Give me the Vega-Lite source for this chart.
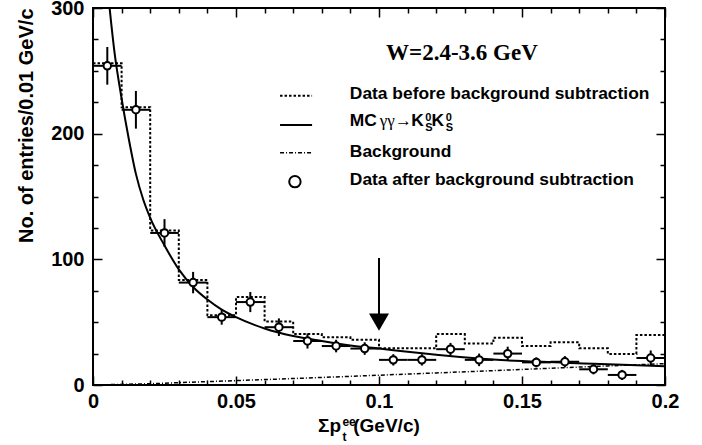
{
  "$schema": "https://vega.github.io/schema/vega-lite/v6.json",
  "width": 572,
  "height": 377,
  "autosize": {"type": "none"},
  "padding": {"left": 93, "top": 8, "right": 37, "bottom": 60},
  "background": "white",
  "config": {
    "view": {"stroke": "black", "strokeWidth": 2},
    "axis": {
      "grid": false,
      "domain": false,
      "labelFont": "Liberation Sans",
      "labelFontWeight": "bold",
      "labelFontSize": 20,
      "labelColor": "black",
      "tickColor": "black",
      "tickWidth": 1.5,
      "labelOverlap": false,
      "labelFlush": false,
      "titleFont": "Liberation Sans",
      "titleFontWeight": "bold",
      "titleFontSize": 20,
      "titleColor": "black"
    }
  },
  "datasets": {
    "points": [
      {"x": 0.005, "xlo": 0.0, "xhi": 0.01, "y": 254, "ylo": 239, "yhi": 269},
      {"x": 0.015, "xlo": 0.01, "xhi": 0.02, "y": 219, "ylo": 204, "yhi": 234},
      {"x": 0.025, "xlo": 0.02, "xhi": 0.03, "y": 121, "ylo": 110, "yhi": 132},
      {"x": 0.035, "xlo": 0.03, "xhi": 0.04, "y": 81.5, "ylo": 73, "yhi": 90},
      {"x": 0.045, "xlo": 0.04, "xhi": 0.05, "y": 54, "ylo": 48, "yhi": 60},
      {"x": 0.055, "xlo": 0.05, "xhi": 0.06, "y": 66, "ylo": 58, "yhi": 74},
      {"x": 0.065, "xlo": 0.06, "xhi": 0.07, "y": 46, "ylo": 39, "yhi": 53},
      {"x": 0.075, "xlo": 0.07, "xhi": 0.08, "y": 35, "ylo": 29, "yhi": 41},
      {"x": 0.085, "xlo": 0.08, "xhi": 0.09, "y": 31, "ylo": 26, "yhi": 36},
      {"x": 0.095, "xlo": 0.09, "xhi": 0.1, "y": 29, "ylo": 24, "yhi": 34},
      {"x": 0.105, "xlo": 0.1, "xhi": 0.11, "y": 20, "ylo": 15.5, "yhi": 24.5},
      {"x": 0.115, "xlo": 0.11, "xhi": 0.12, "y": 20, "ylo": 15.5, "yhi": 24.5},
      {"x": 0.125, "xlo": 0.12, "xhi": 0.13, "y": 28.5, "ylo": 23.5, "yhi": 33.5},
      {"x": 0.135, "xlo": 0.13, "xhi": 0.14, "y": 20, "ylo": 15, "yhi": 25},
      {"x": 0.145, "xlo": 0.14, "xhi": 0.15, "y": 25, "ylo": 19.5, "yhi": 30.5},
      {"x": 0.155, "xlo": 0.15, "xhi": 0.16, "y": 18, "ylo": 14, "yhi": 22},
      {"x": 0.165, "xlo": 0.16, "xhi": 0.17, "y": 18.5, "ylo": 14, "yhi": 23},
      {"x": 0.175, "xlo": 0.17, "xhi": 0.18, "y": 12.5, "ylo": 8.5, "yhi": 16.5},
      {"x": 0.185, "xlo": 0.18, "xhi": 0.19, "y": 8, "ylo": 4, "yhi": 12},
      {"x": 0.195, "xlo": 0.19, "xhi": 0.2, "y": 21.5, "ylo": 15.5, "yhi": 27.5}
    ],
    "hist": [
      {"x": 0.0, "y": 256}, {"x": 0.01, "y": 221}, {"x": 0.02, "y": 123},
      {"x": 0.03, "y": 83.5}, {"x": 0.04, "y": 55.5}, {"x": 0.05, "y": 70},
      {"x": 0.06, "y": 50.5}, {"x": 0.07, "y": 40.5}, {"x": 0.08, "y": 38},
      {"x": 0.09, "y": 36}, {"x": 0.1, "y": 29.2}, {"x": 0.11, "y": 29.2},
      {"x": 0.12, "y": 40.5}, {"x": 0.13, "y": 33}, {"x": 0.14, "y": 37.6},
      {"x": 0.15, "y": 31}, {"x": 0.16, "y": 34}, {"x": 0.17, "y": 29.2},
      {"x": 0.18, "y": 24.7}, {"x": 0.19, "y": 39.8}, {"x": 0.2, "y": 39.8}
    ],
    "mc": [
      {"x": 0.0058, "y": 300}, {"x": 0.0075, "y": 265}, {"x": 0.01, "y": 228},
      {"x": 0.0125, "y": 196}, {"x": 0.015, "y": 168}, {"x": 0.0175, "y": 148},
      {"x": 0.02, "y": 133}, {"x": 0.025, "y": 111}, {"x": 0.03, "y": 92},
      {"x": 0.035, "y": 78}, {"x": 0.04, "y": 68}, {"x": 0.045, "y": 60},
      {"x": 0.05, "y": 54}, {"x": 0.06, "y": 45}, {"x": 0.07, "y": 39},
      {"x": 0.08, "y": 35}, {"x": 0.09, "y": 31.5}, {"x": 0.1, "y": 29},
      {"x": 0.11, "y": 26.5}, {"x": 0.12, "y": 24}, {"x": 0.135, "y": 21},
      {"x": 0.15, "y": 19}, {"x": 0.175, "y": 17}, {"x": 0.2, "y": 15}
    ],
    "bkg": [
      {"x": 0.0, "y": 0}, {"x": 0.02, "y": 1}, {"x": 0.04, "y": 2.7},
      {"x": 0.06, "y": 4.3}, {"x": 0.08, "y": 6}, {"x": 0.1, "y": 7.8},
      {"x": 0.12, "y": 9.6}, {"x": 0.14, "y": 11.4}, {"x": 0.16, "y": 13.3},
      {"x": 0.18, "y": 15.2}, {"x": 0.2, "y": 17}
    ],
    "arrow": [{"x": 0.1, "top": 101, "bottom": 55, "tip": 50}]
  },
  "resolve": {"axis": {"x": "independent", "y": "independent"}},
  "layer": [
    {
      "data": {"name": "hist"},
      "mark": {"type": "line", "interpolate": "step-after", "color": "black", "strokeWidth": 2, "strokeDash": [2.5, 2]},
      "encoding": {
        "x": {"field": "x", "type": "quantitative",
          "scale": {"domain": [0, 0.2], "nice": false, "zero": false},
          "axis": {
            "orient": "bottom", "title": null,
            "values": [0, 0.01, 0.02, 0.03, 0.04, 0.05, 0.06, 0.07, 0.08, 0.09, 0.1, 0.11, 0.12, 0.13, 0.14, 0.15, 0.16, 0.17, 0.18, 0.19, 0.2],
            "labelExpr": "abs(round(datum.value*20)-datum.value*20)<0.001 ? format(datum.value, '~g') : ''",
            "tickSize": {"condition": {"test": "abs(round(datum.value*20)-datum.value*20)<0.001", "value": -9}, "value": -5},
            "labelPadding": 15
          }},
        "y": {"field": "y", "type": "quantitative",
          "scale": {"domain": [0, 300], "nice": false},
          "axis": {
            "orient": "left",
            "title": "No. of entries/0.01 GeV/c",
            "titleAnchor": "end",
            "titlePadding": 14,
            "values": [0, 25, 50, 75, 100, 125, 150, 175, 200, 225, 250, 275, 300],
            "labelExpr": "datum.value % 100 == 0 ? datum.label : ''",
            "tickSize": {"condition": {"test": "datum.value % 100 == 0", "value": -9}, "value": -5},
            "labelPadding": 18
          }}
      }
    },
    {
      "data": {"name": "bkg"},
      "mark": {"type": "line", "color": "black", "strokeWidth": 1.5, "strokeDash": [4, 2, 1, 2]},
      "encoding": {
        "x": {"field": "x", "type": "quantitative", "axis": null},
        "y": {"field": "y", "type": "quantitative", "axis": null}
      }
    },
    {
      "data": {"name": "mc"},
      "mark": {"type": "line", "color": "black", "strokeWidth": 2, "interpolate": "monotone"},
      "encoding": {
        "x": {"field": "x", "type": "quantitative", "axis": null},
        "y": {"field": "y", "type": "quantitative", "axis": null}
      }
    },
    {
      "data": {"name": "points"},
      "mark": {"type": "rule", "color": "black", "strokeWidth": 2},
      "encoding": {
        "x": {"field": "x", "type": "quantitative", "axis": null},
        "y": {"field": "ylo", "type": "quantitative", "axis": null},
        "y2": {"field": "yhi"}
      }
    },
    {
      "data": {"name": "points"},
      "mark": {"type": "rule", "color": "black", "strokeWidth": 2},
      "encoding": {
        "x": {"field": "xlo", "type": "quantitative", "axis": null},
        "x2": {"field": "xhi"},
        "y": {"field": "y", "type": "quantitative", "axis": null}
      }
    },
    {
      "data": {"name": "points"},
      "mark": {"type": "point", "shape": "circle", "filled": true, "fill": "white", "stroke": "black", "strokeWidth": 2, "size": 55, "opacity": 1},
      "encoding": {
        "x": {"field": "x", "type": "quantitative", "axis": null},
        "y": {"field": "y", "type": "quantitative", "axis": null}
      }
    },
    {
      "data": {"name": "arrow"},
      "mark": {"type": "rule", "color": "black", "strokeWidth": 2},
      "encoding": {
        "x": {"field": "x", "type": "quantitative", "axis": null},
        "y": {"field": "top", "type": "quantitative", "axis": null},
        "y2": {"field": "bottom"}
      }
    },
    {
      "data": {"name": "arrow"},
      "mark": {"type": "point", "shape": "triangle-down", "filled": true, "color": "black", "size": 400, "opacity": 1},
      "encoding": {
        "x": {"field": "x", "type": "quantitative", "axis": null},
        "y": {"field": "tip", "type": "quantitative", "axis": null}
      }
    },
    {
      "data": {"values": [{"x": 0.129, "y": 264, "t": "W=2.4-3.6 GeV"}]},
      "mark": {"type": "text", "font": "Liberation Serif", "fontWeight": "bold", "fontSize": 23, "align": "center", "baseline": "middle", "color": "black"},
      "encoding": {
        "x": {"field": "x", "type": "quantitative", "axis": null},
        "y": {"field": "y", "type": "quantitative", "axis": null},
        "text": {"field": "t"}
      }
    },
    {
      "data": {"values": [
        {"x": 0.0898, "y": 231.2, "t": "Data before background subtraction"},
        {"x": 0.0898, "y": 209.7, "t": "MC"},
        {"x": 0.1113, "y": 209.7, "t": "K"},
        {"x": 0.1184, "y": 209.7, "t": "K"},
        {"x": 0.0898, "y": 185.8, "t": "Background"},
        {"x": 0.0898, "y": 163.1, "t": "Data after background subtraction"}
      ]},
      "mark": {"type": "text", "font": "Liberation Sans", "fontWeight": "bold", "fontSize": 17.4, "align": "left", "baseline": "middle", "color": "black"},
      "encoding": {
        "x": {"field": "x", "type": "quantitative", "axis": null},
        "y": {"field": "y", "type": "quantitative", "axis": null},
        "text": {"field": "t"}
      }
    },
    {
      "data": {"values": [{"x": 0.1003, "y": 209.7, "t": "γγ→"}]},
      "mark": {"type": "text", "font": "Liberation Serif", "fontSize": 17, "align": "left", "baseline": "middle", "color": "black"},
      "encoding": {
        "x": {"field": "x", "type": "quantitative", "axis": null},
        "y": {"field": "y", "type": "quantitative", "axis": null},
        "text": {"field": "t"}
      }
    },
    {
      "data": {"values": [
        {"x": 0.1162, "y": 212.2, "t": "0"},
        {"x": 0.1162, "y": 204.2, "t": "S"},
        {"x": 0.1233, "y": 212.2, "t": "0"},
        {"x": 0.1233, "y": 204.2, "t": "S"}
      ]},
      "mark": {"type": "text", "font": "Liberation Sans", "fontWeight": "bold", "fontSize": 11, "align": "left", "baseline": "middle", "color": "black"},
      "encoding": {
        "x": {"field": "x", "type": "quantitative", "axis": null},
        "y": {"field": "y", "type": "quantitative", "axis": null},
        "text": {"field": "t"}
      }
    },
    {
      "data": {"values": [
        {"x1": 0.0654, "x2": 0.0766, "y": 230.2}
      ]},
      "mark": {"type": "rule", "color": "black", "strokeWidth": 2, "strokeDash": [2.5, 2]},
      "encoding": {
        "x": {"field": "x1", "type": "quantitative", "axis": null},
        "x2": {"field": "x2"},
        "y": {"field": "y", "type": "quantitative", "axis": null}
      }
    },
    {
      "data": {"values": [
        {"x1": 0.0654, "x2": 0.0766, "y": 206.9}
      ]},
      "mark": {"type": "rule", "color": "black", "strokeWidth": 2},
      "encoding": {
        "x": {"field": "x1", "type": "quantitative", "axis": null},
        "x2": {"field": "x2"},
        "y": {"field": "y", "type": "quantitative", "axis": null}
      }
    },
    {
      "data": {"values": [
        {"x1": 0.0654, "x2": 0.0766, "y": 184.8}
      ]},
      "mark": {"type": "rule", "color": "black", "strokeWidth": 1.5, "strokeDash": [4, 2, 1, 2]},
      "encoding": {
        "x": {"field": "x1", "type": "quantitative", "axis": null},
        "x2": {"field": "x2"},
        "y": {"field": "y", "type": "quantitative", "axis": null}
      }
    },
    {
      "data": {"values": [{"x": 0.0706, "y": 161.8}]},
      "mark": {"type": "point", "shape": "circle", "filled": false, "stroke": "black", "strokeWidth": 2, "size": 130, "opacity": 1},
      "encoding": {
        "x": {"field": "x", "type": "quantitative", "axis": null},
        "y": {"field": "y", "type": "quantitative", "axis": null}
      }
    },
    {
      "data": {"values": [
        {"x": 0.0787, "y": -37.5, "t": "Σp"},
        {"x": 0.091, "y": -37.5, "t": "(GeV/c)"}
      ]},
      "mark": {"type": "text", "font": "Liberation Sans", "fontWeight": "bold", "fontSize": 19, "align": "left", "baseline": "alphabetic", "color": "black"},
      "encoding": {
        "x": {"field": "x", "type": "quantitative", "axis": null},
        "y": {"field": "y", "type": "quantitative", "axis": null},
        "text": {"field": "t"}
      }
    },
    {
      "data": {"values": [
        {"x": 0.0872, "y": -44.5, "t": "t"},
        {"x": 0.0872, "y": -32.5, "t": "ee"}
      ]},
      "mark": {"type": "text", "font": "Liberation Sans", "fontWeight": "bold", "fontSize": 12, "align": "left", "baseline": "alphabetic", "color": "black"},
      "encoding": {
        "x": {"field": "x", "type": "quantitative", "axis": null},
        "y": {"field": "y", "type": "quantitative", "axis": null},
        "text": {"field": "t"}
      }
    },
    {
      "data": {"name": "hist"},
      "mark": {"type": "point", "opacity": 0},
      "encoding": {
        "x": {"field": "x", "type": "quantitative",
          "axis": {
            "orient": "top", "title": null, "labels": false,
            "values": [0, 0.01, 0.02, 0.03, 0.04, 0.05, 0.06, 0.07, 0.08, 0.09, 0.1, 0.11, 0.12, 0.13, 0.14, 0.15, 0.16, 0.17, 0.18, 0.19, 0.2],
            "tickSize": {"condition": {"test": "abs(round(datum.value*20)-datum.value*20)<0.001", "value": -9}, "value": -5}
          }},
        "y": {"field": "y", "type": "quantitative",
          "axis": {
            "orient": "right", "title": null, "labels": false,
            "values": [0, 25, 50, 75, 100, 125, 150, 175, 200, 225, 250, 275, 300],
            "tickSize": {"condition": {"test": "datum.value % 100 == 0", "value": -9}, "value": -5}
          }}
      }
    }
  ]
}
